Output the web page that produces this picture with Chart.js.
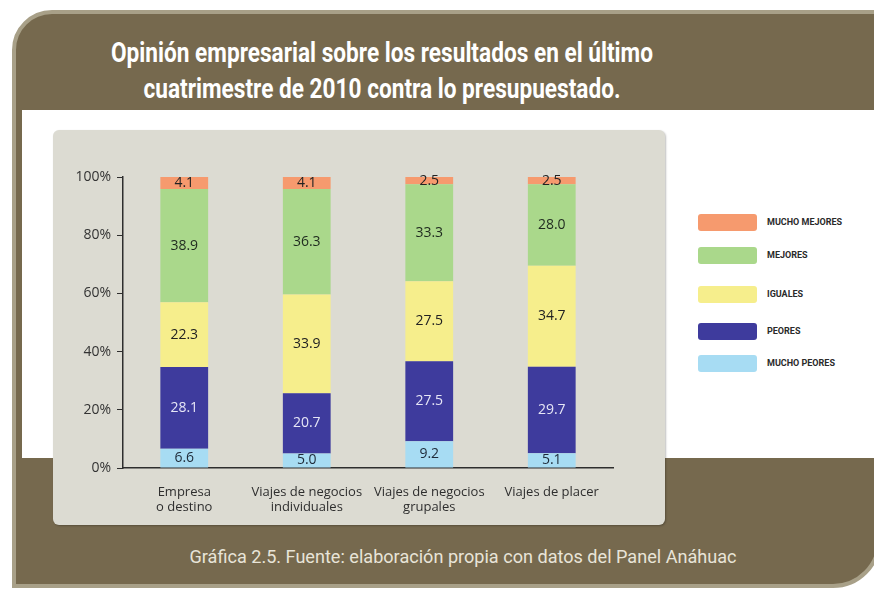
<!DOCTYPE html>
<html lang="es">
<head>
<meta charset="utf-8">
<script src="https://cdn.jsdelivr.net/npm/chart.js@4"></script>
<style>
  html, body { margin: 0; padding: 0; }
  body { width: 874px; height: 590px; background: #ffffff; position: relative; overflow: hidden; font-family: "Open Sans", sans-serif; }
  #frame { position: absolute; left: 12px; top: 10px; width: 861px; height: 570px; background: #76694e; border: 4px solid #a8a088; border-radius: 40px 0 48px 0; }
  #white { position: absolute; left: 22px; top: 110px; width: 852px; height: 348px; background: #ffffff; }
  #panel { position: absolute; left: 53px; top: 130px; width: 612px; height: 395px; background: #dcdbd2; border-radius: 6px; box-shadow: 1px 1px 2px rgba(0,0,0,0.25); }
  #title { position: absolute; left: 0; top: 35px; width: 764px; text-align: center; color: #ffffff; font-family: Roboto, sans-serif; font-weight: bold; font-size: 27px; line-height: 36px; transform-origin: 382px 0; }
  #caption { position: absolute; left: 163px; top: 545px; width: 600px; text-align: center; color: #e8e4d8; font-family: Roboto, sans-serif; font-size: 18px; line-height: 24px; transform-origin: 300px 0; }
  #chartbox { position: absolute; left: 53px; top: 130px; width: 612px; height: 395px; }
  #legend { position: absolute; left: 698px; top: 214px; }
  .item { position: absolute; left: 0; height: 17px; white-space: nowrap; }
  .sw { position: absolute; left: 0; top: 0; width: 59px; height: 17px; border-radius: 3px; }
  .lb { position: absolute; left: 69px; top: 0; line-height: 17px; font-family: Roboto, sans-serif; font-weight: bold; font-size: 9px; color: #2a2a2a; }
  .ln { white-space: nowrap; }
</style>
</head>
<body>
<div id="frame"></div>
<div id="white"></div>
<div id="title"><span class="ln" id="t1">Opinión empresarial sobre los resultados en el último</span><br><span class="ln">cuatrimestre de 2010 contra lo presupuestado.</span></div>
<div id="panel"></div>
<div id="chartbox"><canvas id="c" width="612" height="395"></canvas></div>
<div id="legend"></div>
<div id="caption"><span class="ln" id="cap">Gráfica 2.5. Fuente: elaboración propia con datos del Panel Anáhuac</span></div>
<script>
// ---- data ----
const categories = [["Empresa", "o destino"], ["Viajes de negocios", "individuales"], ["Viajes de negocios", "grupales"], "Viajes de placer"];
const seriesNames = ["MUCHO PEORES", "PEORES", "IGUALES", "MEJORES", "MUCHO MEJORES"];
const muchoPeores = [6.6, 5.0, 9.2, 5.1];
const peores = [28.1, 20.7, 27.5, 29.7];
const iguales = [22.3, 33.9, 27.5, 34.7];
const mejores = [38.9, 36.3, 33.3, 28.0];
const muchoMejores = [4.1, 4.1, 2.5, 2.5];
const yTicks = [0, 20, 40, 60, 80, 100];

// ---- styles ----
const seriesColors = ["#a7dcf3", "#3e3b9d", "#f6ee8c", "#aad88b", "#f69a6e"];
const labelColors = ["#1e2a38", "#e6e6f6", "#222222", "#1f2a1f", "#222222"];
const legendGaps = [0, 33, 72, 109, 141];

const seriesValues = [muchoPeores, peores, iguales, mejores, muchoMejores];

// fit the condensed-looking headings to the widths in the reference
function squeeze(el, span, target) {
  const w = span.getBoundingClientRect().width;
  el.style.transform = 'scaleX(' + (target / w) + ')';
}
squeeze(document.getElementById('title'), document.getElementById('t1'), 542);
squeeze(document.getElementById('caption'), document.getElementById('cap'), 547);

const valueLabels = {
  id: 'valueLabels',
  afterDatasetsDraw(chart) {
    const ctx = chart.ctx;
    chart.data.datasets.forEach((ds, i) => {
      const meta = chart.getDatasetMeta(i);
      meta.data.forEach((bar, j) => {
        const p = bar.getProps(['x', 'y', 'base'], true);
        ctx.save();
        ctx.font = '14px "Open Sans", sans-serif';
        ctx.fillStyle = labelColors[i];
        ctx.textAlign = 'center';
        ctx.textBaseline = 'middle';
        ctx.fillText(ds.data[j].toFixed(1), p.x, (p.y + p.base) / 2);
        ctx.restore();
      });
    });
  }
};

new Chart(document.getElementById('c'), {
  type: 'bar',
  data: {
    labels: categories,
    datasets: seriesNames.map((name, i) => ({
      label: name,
      data: seriesValues[i],
      backgroundColor: seriesColors[i],
      borderWidth: 0,
      barPercentage: 0.39,
      categoryPercentage: 1.0
    }))
  },
  options: {
    responsive: false,
    devicePixelRatio: 1,
    animation: false,
    layout: { padding: { top: 47, right: 52, bottom: 0, left: 0 } },
    plugins: { legend: { display: false }, tooltip: { enabled: false } },
    scales: {
      x: {
        stacked: true,
        grid: { display: false },
        border: { display: true, color: '#2e2e2e', width: 1.5 },
        ticks: { color: '#2e2e2e', font: { family: '"Open Sans", sans-serif', size: 13 }, padding: 8, maxRotation: 0, autoSkip: false },
        afterFit(scale) { scale.height = 57; }
      },
      y: {
        stacked: true,
        min: 0,
        max: 100,
        afterBuildTicks(scale) { scale.ticks = yTicks.map(v => ({ value: v })); },
        grid: { drawOnChartArea: false, drawTicks: true, tickLength: 6, color: '#2e2e2e', lineWidth: 1 },
        border: { display: true, color: '#2e2e2e', width: 1.5 },
        ticks: { color: '#333333', font: { family: '"Open Sans", sans-serif', size: 14 }, padding: 6, callback: v => v + '%' },
        afterFit(scale) { scale.width = 70; }
      }
    }
  },
  plugins: [valueLabels]
});

// ---- legend built from the series ----
const legend = document.getElementById('legend');
for (let k = 0; k < seriesNames.length; k++) {
  const i = seriesNames.length - 1 - k;
  const item = document.createElement('div');
  item.className = 'item';
  item.style.top = legendGaps[k] + 'px';
  const sw = document.createElement('div');
  sw.className = 'sw';
  sw.style.background = seriesColors[i];
  const lb = document.createElement('div');
  lb.className = 'lb';
  lb.textContent = seriesNames[i];
  item.appendChild(sw);
  item.appendChild(lb);
  legend.appendChild(item);
}
</script>
</body>
</html>
